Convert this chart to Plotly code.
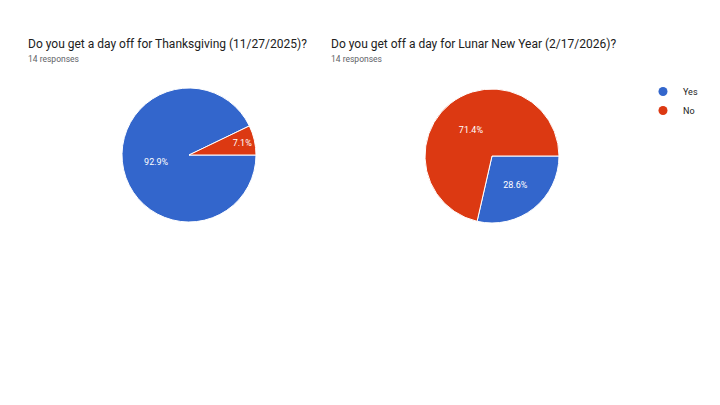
import plotly.graph_objects as go

# survey answers
labels = ["Yes", "No"]
thanksgiving = [13, 1]
lunar_new_year = [4, 10]
titles = ["Do you get a day off for Thanksgiving (11/27/2025)?",
          "Do you get off a day for Lunar New Year (2/17/2026)?"]
subtitles = ["14 responses", "14 responses"]

colors = ["#3366cc", "#dc3912"]
W, H = 720, 405
OFF = 8  # page body margin in the browser


def px(x, y):
    return (x - OFF) / W, 1 - (y - OFF) / H


def pie_domain(cx, cy, r):
    # pixel centre/radius -> paper domain
    x0, y1 = px(cx - r, cy - r)
    x1, y0 = px(cx + r, cy + r)
    return dict(x=[x0, x1], y=[y0, y1])


fig = go.Figure()
for vals, dom in [(thanksgiving, pie_domain(189, 155, 67)),
                  (lunar_new_year, pie_domain(492, 156, 67))]:
    fig.add_trace(go.Pie(
        labels=labels, values=vals, sort=False, direction="clockwise",
        rotation=90, domain=dom, showlegend=False,
        marker=dict(colors=colors, line=dict(color="white", width=1)),
        texttemplate="%{percent:.1%}", textposition="inside",
        insidetextorientation="horizontal",
        textfont=dict(color="white", size=9, family="Roboto"),
        hoverinfo="label+value+percent",
    ))

# round legend markers like the forms chart
for lab, col in zip(labels, colors):
    fig.add_trace(go.Scatter(x=[None], y=[None], mode="markers", name=lab,
                             marker=dict(symbol="circle", size=9, color=col)))

for i, x0 in enumerate([26, 329]):
    ax, ay = px(x0, 44)
    fig.add_annotation(x=ax, y=ay, xref="paper", yref="paper",
                       xanchor="left", yanchor="middle", showarrow=False,
                       text=titles[i], font=dict(size=12, color="#212121", family="Roboto"))
    ax, ay = px(x0, 59)
    fig.add_annotation(x=ax, y=ay, xref="paper", yref="paper",
                       xanchor="left", yanchor="middle", showarrow=False,
                       text=subtitles[i], font=dict(size=8.5, color="#5f6368", family="Roboto"))

lx, ly = px(643, 77)
fig.update_layout(
    width=W, height=H,
    margin=dict(l=0, r=0, t=0, b=0),
    paper_bgcolor="white", plot_bgcolor="white",
    font=dict(family="Roboto", color="#222"),
    xaxis=dict(visible=False), yaxis=dict(visible=False),
    legend=dict(x=lx, y=ly, xanchor="left", yanchor="top",
                font=dict(size=9, color="#222", family="Roboto"),
                itemwidth=30, tracegroupgap=0),
)

fig.write_html("out.html")
